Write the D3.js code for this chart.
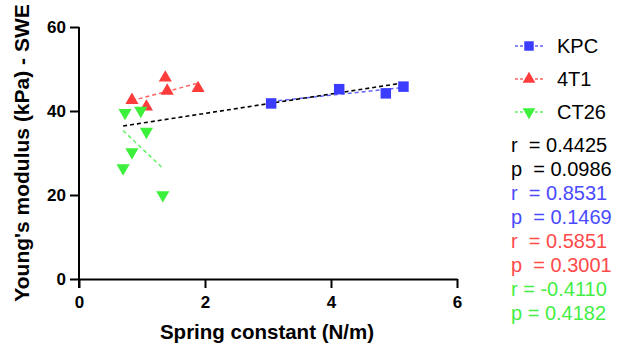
<!DOCTYPE html>
<html>
<head>
<meta charset="utf-8">
<script src="https://cdn.jsdelivr.net/npm/d3@7"></script>
<style>
  body { margin: 0; background: #fff; }
  svg { display: block; font-family: "Liberation Sans", Arial, sans-serif; }
</style>
</head>
<body>
<svg id="chart" width="618" height="347"></svg>
<script>
// values
const kpcX = [3.05, 4.13, 4.87, 5.15];
const kpcY = [41.8, 45.2, 44.2, 45.8];
const t41X = [0.84, 1.07, 1.37, 1.40, 1.89];
const t41Y = [42.6, 41.0, 47.9, 44.8, 45.4];
const ct26X = [0.70, 0.73, 0.84, 0.98, 1.07, 1.33];
const ct26Y = [26.4, 39.6, 30.2, 40.1, 35.1, 20.0];

const groupNames = ["KPC", "4T1", "CT26"];
const groupColors = ["#3c3cff", "#ff3c3c", "#3cf03c"];
const groupSymbols = [d3.symbolSquare, d3.symbolTriangle, d3.symbolTriangle];

const xTicks = [0, 2, 4, 6];
const yTicks = [0, 20, 40, 60];

const statLines = [
  ["r  = 0.4425", "#000"],
  ["p  = 0.0986", "#000"],
  ["r  = 0.8531", "#4a4aff"],
  ["p  = 0.1469", "#4a4aff"],
  ["r  = 0.5851", "#ff4a4a"],
  ["p  = 0.3001", "#ff4a4a"],
  ["r = -0.4110", "#44ee44"],
  ["p = 0.4182", "#44ee44"]
];

const margin = {top: 27, left: 79, bottom: 68, right: 161};
const width = 618, height = 347;

const svg = d3.select("#chart");

const x = d3.scaleLinear().domain([0, 6]).range([margin.left, width - margin.right]);
const y = d3.scaleLinear().domain([0, 60]).range([height - margin.bottom, margin.top]);

const groups = [
  {xs: kpcX, ys: kpcY},
  {xs: t41X, ys: t41Y},
  {xs: ct26X, ys: ct26Y}
].map((g, i) => ({
  name: groupNames[i],
  color: groupColors[i],
  symbol: groupSymbols[i],
  flip: i === 2,
  points: g.xs.map((v, j) => [v, g.ys[j]])
}));

function fit(points) {
  const mx = d3.mean(points, d => d[0]);
  const my = d3.mean(points, d => d[1]);
  let sxy = 0, sxx = 0;
  points.forEach(d => {
    sxy += (d[0] - mx) * (d[1] - my);
    sxx += (d[0] - mx) * (d[0] - mx);
  });
  const b = sxy / sxx;
  const x0 = d3.min(points, d => d[0]);
  const x1 = d3.max(points, d => d[0]);
  return [[x0, my + b * (x0 - mx)], [x1, my + b * (x1 - mx)]];
}

// axes
const yAxis = svg.append("g")
  .attr("transform", `translate(${margin.left},0)`)
  .call(d3.axisLeft(y).tickValues(yTicks).tickFormat(d3.format("d"))
    .tickSize(9).tickPadding(4).tickSizeOuter(0));
const xAxis = svg.append("g")
  .attr("transform", `translate(0,${height - margin.bottom})`)
  .call(d3.axisBottom(x).tickValues(xTicks).tickFormat(d3.format("d"))
    .tickSize(9).tickPadding(8).tickSizeOuter(0));

[xAxis, yAxis].forEach(a => {
  a.attr("font-size", null).attr("font-family", null);
  a.select(".domain").attr("stroke", "#000").attr("stroke-width", 2);
  a.selectAll(".tick line").attr("stroke", "#000").attr("stroke-width", 2);
  a.selectAll(".tick text")
    .attr("fill", "#000")
    .style("font-size", "17px")
    .style("font-weight", "bold");
});
yAxis.select(".domain").attr("d", `M0,${y(60)}V${y(0) + 9}`);

svg.append("text")
  .attr("transform", `translate(29,${(y(0) + y(60)) / 2}) rotate(-90)`)
  .attr("text-anchor", "middle")
  .style("font-size", "21px")
  .style("font-weight", "bold")
  .text("Young's modulus (kPa) - SWE");

svg.append("text")
  .attr("x", 267)
  .attr("y", 339)
  .attr("text-anchor", "middle")
  .style("font-size", "20.5px")
  .style("font-weight", "bold")
  .text("Spring constant (N/m)");

// regression lines
const line = d3.line().x(d => x(d[0])).y(d => y(d[1]));
const allPoints = groups.flatMap(g => g.points);

groups.forEach(g => {
  svg.append("path")
    .attr("d", line(fit(g.points)))
    .attr("fill", "none")
    .attr("stroke", g.color)
    .attr("stroke-opacity", 0.8)
    .attr("stroke-width", 1.5)
    .attr("stroke-dasharray", "4,3");
});

svg.append("path")
  .attr("d", line(fit(allPoints)))
  .attr("fill", "none")
  .attr("stroke", "#000")
  .attr("stroke-width", 1.6)
  .attr("stroke-dasharray", "4,3");

// points
groups.forEach(g => {
  svg.append("g")
    .selectAll("path")
    .data(g.points)
    .enter().append("path")
      .attr("d", d3.symbol().type(g.symbol).size(g.symbol === d3.symbolSquare ? 110 : 75))
      .attr("transform", d => `translate(${x(d[0])},${y(d[1])})` + (g.flip ? " rotate(180)" : ""))
      .attr("fill", g.color);
});

// legend
const legend = svg.append("g");
groups.forEach((g, i) => {
  const ly = 46 + i * 33;
  legend.append("line")
    .attr("x1", 515).attr("x2", 543)
    .attr("y1", ly).attr("y2", ly)
    .attr("stroke", g.color)
    .attr("stroke-opacity", 0.8)
    .attr("stroke-width", 1.5)
    .attr("stroke-dasharray", "3,2");
  legend.append("path")
    .attr("d", d3.symbol().type(g.symbol).size(g.symbol === d3.symbolSquare ? 90 : 70))
    .attr("transform", `translate(529,${ly})` + (g.flip ? " rotate(180)" : ""))
    .attr("fill", g.color);
  legend.append("text")
    .attr("x", 557)
    .attr("y", ly)
    .attr("dy", "0.36em")
    .style("font-size", "20px")
    .text(g.name);
});

// stats
svg.append("g")
  .selectAll("text")
  .data(statLines)
  .enter().append("text")
    .attr("x", 511)
    .attr("y", (d, i) => 145 + i * 24)
    .attr("dy", "0.36em")
    .attr("xml:space", "preserve")
    .attr("fill", d => d[1])
    .style("font-size", "20px")
    .style("white-space", "pre")
    .text(d => d[0]);
</script>
</body>
</html>
